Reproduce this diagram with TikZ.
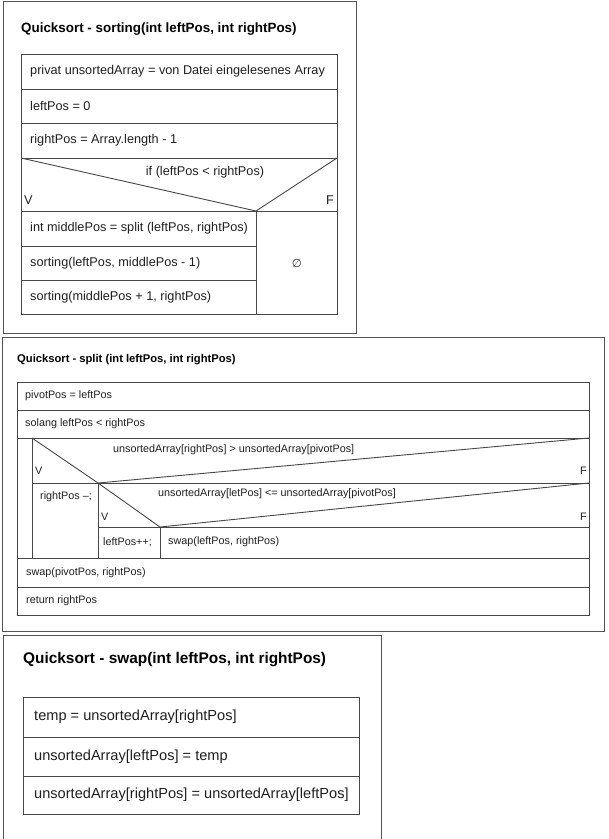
\documentclass[tikz,border=0pt]{standalone}
\usepackage{fontspec}
\setmainfont{Liberation Sans}
\newfontfamily\symfont{DejaVu Sans}
\usepackage{tikz}
\usetikzlibrary{positioning}

\begin{document}
\begin{tikzpicture}[x=1pt,y=-1pt,
frame/.style={draw=black!68,line width=1pt},
cell/.style={draw=black!72,line width=.9pt},
ttlA/.style={font=\fontsize{13.4}{16}\selectfont\bfseries,inner sep=0pt,anchor=base west},
ttlB/.style={font=\fontsize{11.2}{13}\selectfont\bfseries,inner sep=0pt,anchor=base west},
ttlC/.style={font=\fontsize{15.4}{18}\selectfont\bfseries,inner sep=0pt,anchor=base west},
txtA/.style={font=\fontsize{12.7}{15}\selectfont,inner sep=0pt,anchor=west,text=black!88},
txtB/.style={font=\fontsize{10.8}{13}\selectfont,inner sep=0pt,anchor=west,text=black!88},
txtC/.style={font=\fontsize{14.6}{17}\selectfont,inner sep=0pt,anchor=west,text=black!88}]
\useasboundingbox (0,0) rectangle (609,839);

% sorting
\draw[frame] (3,1) rectangle (356,333);
\node[ttlA] (sortTitle) at (21,32) {Quicksort - sorting(int leftPos, int rightPos)};
\draw[cell] (21,54) rectangle (337,314);
\draw[cell] (21,89) -- (337,89) (21,123) -- (337,123) (21,158) -- (337,158);
\draw[cell] (21,158) -- (256,211) -- (337,158);
\draw[cell] (21,211) -- (337,211) (256,211) -- (256,314);
\draw[cell] (21,246) -- (256,246) (21,280) -- (256,280);
\node[txtA] (sortInit) at (30,71.5) {privat unsortedArray = von Datei eingelesenes Array};
\node[txtA] (sortLeft) at (30,106) {leftPos = 0};
\node[txtA] (sortRight) at (30,140.5) {rightPos = Array.length - 1};
\node[txtA,anchor=center] (sortIf) at (205,172) {if (leftPos < rightPos)};
\node[txtA] (sortV) at (24,200) {V};
\node[txtA,anchor=east] (sortF) at (334,200) {F};
\node[txtA] (sortMid) at (30,228.5) {int middlePos = split (leftPos, rightPos)};
\node[txtA] (sortRecL) at (30,263) {sorting(leftPos, middlePos - 1)};
\node[txtA] (sortRecR) at (30,297) {sorting(middlePos + 1, rightPos)};
\node[font=\symfont\fontsize{11.5}{13}\selectfont,inner sep=0pt,text=black!80] (sortEmpty) at (297,263) {∅};

% split
\draw[frame] (2,337) rectangle (604,631);
\node[ttlB] (splitTitle) at (17,362) {Quicksort - split (int leftPos, int rightPos)};
\draw[cell] (17,382) rectangle (589,615);
\draw[cell] (17,410) -- (589,410) (17,438) -- (589,438);
\draw[cell] (32,438) -- (32,558) (17,558) -- (589,558) (17,587) -- (589,587);
\draw[cell] (32,438) -- (98,483) -- (589,438);
\draw[cell] (32,483) -- (589,483) (98,483) -- (98,558);
\draw[cell] (98,483) -- (160,527) -- (589,483);
\draw[cell] (98,527) -- (589,527) (160,527) -- (160,558);
\node[txtB] (splitPivot) at (25,396) {pivotPos = leftPos};
\node[txtB] (splitLoop) at (25,424) {solang leftPos < rightPos};
\node[txtB] (splitCondA) at (113,450) {unsortedArray[rightPos] > unsortedArray[pivotPos]};
\node[txtB] (splitVA) at (35,471) {V};
\node[txtB,anchor=east] (splitFA) at (587,471) {F};
\node[txtB] (splitDec) at (40,497) {rightPos \textendash;};
\node[txtB] (splitCondB) at (158,494) {unsortedArray[letPos] <= unsortedArray[pivotPos]};
\node[txtB] (splitVB) at (101,517) {V};
\node[txtB,anchor=east] (splitFB) at (587,517) {F};
\node[txtB] (splitInc) at (103,542) {leftPos++;};
\node[txtB] (splitSwap) at (168,542) {swap(leftPos, rightPos)};
\node[txtB] (splitSwapP) at (26,572.5) {swap(pivotPos, rightPos)};
\node[txtB] (splitRet) at (26,601) {return rightPos};

% swap
\draw[frame] (3,839) -- (3,635) -- (381,635) -- (381,839);
\node[ttlC] (swapTitle) at (23,663) {Quicksort - swap(int leftPos, int rightPos)};
\draw[cell] (23,697) rectangle (359,814);
\draw[cell] (23,737) -- (359,737) (23,776) -- (359,776);
\node[txtC] (swapTemp) at (34,717) {temp = unsortedArray[rightPos]};
\node[txtC] (swapLeft) at (34,756.5) {unsortedArray[leftPos] = temp};
\node[txtC] (swapRight) at (34,795) {unsortedArray[rightPos] = unsortedArray[leftPos]};
\end{tikzpicture}
\end{document}
